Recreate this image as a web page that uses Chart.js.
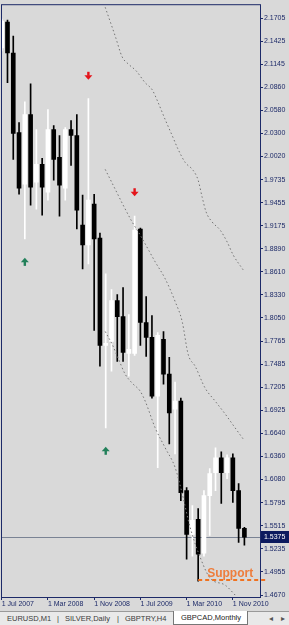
<!DOCTYPE html>
<html>
<head>
<meta charset="utf-8">
<script src="https://cdn.jsdelivr.net/npm/chart.js@4.4.1/dist/chart.umd.min.js"></script>
<style>
html, body { margin: 0; padding: 0; background: #d9d9d9; }
#wrap { position: relative; width: 289px; height: 625px; overflow: hidden; background: #d9d9d9; }
#chart { display: block; }
.tabs { position: absolute; left: 0; top: 611px; width: 289px; height: 14px; background: #e9e9e9;
        border-top: 1px solid #9a9a9a; box-sizing: border-box;
        font: 7.5px "Liberation Sans", Arial, sans-serif; color: #3a3a3a; }
.tabs span { position: absolute; top: 2px; white-space: nowrap; }
.tabs .active { top: -1px; left: 173px; width: 75px; height: 14px; background: #fff;
                border: 1px solid #777; border-top: none; box-sizing: border-box; padding: 2px 0 0 7px; color: #222; }
</style>
</head>
<body>
<div id="wrap">
  <canvas id="chart" width="289" height="611"></canvas>
  <div class="tabs">
    <span style="left:7px">EURUSD,M1</span>
    <span style="left:57px">|</span>
    <span style="left:65px">SILVER,Daily</span>
    <span style="left:117px">|</span>
    <span style="left:125px">GBPTRY,H4</span>
    <span class="active">GBPCAD,Monthly</span>
    <span style="left:269px;color:#555">&#9666;</span>
    <span style="left:281px;color:#555">&#9656;</span>
  </div>
</div>
<script>
// GBPCAD monthly candles, Jul 2007 .. Jan 2011

const months = ['Jul 2007', 'Aug 2007', 'Sep 2007', 'Oct 2007', 'Nov 2007', 'Dec 2007',
  'Jan 2008', 'Feb 2008', 'Mar 2008', 'Apr 2008', 'May 2008', 'Jun 2008', 'Jul 2008', 'Aug 2008',
  'Sep 2008', 'Oct 2008', 'Nov 2008', 'Dec 2008', 'Jan 2009', 'Feb 2009', 'Mar 2009', 'Apr 2009',
  'May 2009', 'Jun 2009', 'Jul 2009', 'Aug 2009', 'Sep 2009', 'Oct 2009', 'Nov 2009', 'Dec 2009',
  'Jan 2010', 'Feb 2010', 'Mar 2010', 'Apr 2010', 'May 2010', 'Jun 2010', 'Jul 2010', 'Aug 2010',
  'Sep 2010', 'Oct 2010', 'Nov 2010', 'Dec 2010', 'Jan 2011'];

const opens = [2.1341, 2.1656, 2.1280, 2.0310, 1.9679, 2.0528, 1.9704, 1.9922, 1.9582, 2.0347,
  2.0007, 1.9631, 2.0347, 2.0274, 1.9182, 1.8940, 1.9437, 1.9024, 1.7714, 1.7763, 1.8260, 1.8066,
  1.7617, 1.7617, 1.9134, 1.7993, 1.7812, 1.7096, 1.7787, 1.7363, 1.6938, 1.7035, 1.5944, 1.5410,
  1.5592, 1.5180, 1.5883, 1.6162, 1.6344, 1.6162, 1.6344, 1.5944, 1.5483];
const highs = [2.1693, 2.1681, 2.1487, 2.0431, 2.0686, 2.0904, 2.0347, 1.9995, 2.0589, 2.0395,
  2.0274, 2.0371, 2.0456, 2.0528, 1.9546, 2.0723, 1.9558, 1.9085, 1.8588, 1.8394, 1.8333, 1.8418,
  1.8090, 1.9291, 1.9146, 1.8309, 1.8078, 1.7872, 1.7884, 1.7569, 1.7266, 1.7072, 1.5980, 1.5762,
  1.5725, 1.5944, 1.6211, 1.6465, 1.6417, 1.6380, 1.6392, 1.6029, 1.5495];
const lows = [2.1305, 2.0917, 1.9983, 1.9558, 1.9012, 1.9425, 1.9376, 1.9303, 1.9485, 1.9728,
  1.9291, 1.9485, 1.9910, 1.9134, 1.8648, 1.8709, 1.7896, 1.7460, 1.6708, 1.7399, 1.7520, 1.7520,
  1.7339, 1.7593, 1.7714, 1.7581, 1.7072, 1.6223, 1.7242, 1.6514, 1.6392, 1.5822, 1.5107, 1.5143,
  1.4840, 1.5143, 1.5398, 1.5944, 1.5786, 1.6089, 1.5798, 1.5313, 1.5277];
const closes = [2.1669, 2.1280, 2.0298, 1.9631, 2.0528, 1.9643, 1.9922, 1.9643, 2.0347, 1.9983,
  1.9667, 2.0347, 2.0274, 1.9364, 1.8940, 1.9485, 1.9012, 1.7714, 1.7740, 1.8260, 1.8066, 1.7630,
  1.7666, 1.9121, 1.7993, 1.7812, 1.7096, 1.7836, 1.7363, 1.6890, 1.7035, 1.5919, 1.5410, 1.5580,
  1.5167, 1.5883, 1.6150, 1.6344, 1.6162, 1.6344, 1.5944, 1.5483, 1.5375];

const priceTicks = [2.1705, 2.1425, 2.1145, 2.0860, 2.0580, 2.0300, 2.0020, 1.9735, 1.9455,
  1.9175, 1.8890, 1.8610, 1.8330, 1.8050, 1.7765, 1.7485, 1.7205, 1.6925, 1.6640, 1.6360,
  1.6080, 1.5795, 1.5515, 1.5235, 1.4955, 1.4670];
const dateTicks = [0, 8, 16, 24, 32, 40];

// dotted channel lines (bar index, price)
const upperLineX = [17.91, 19.64, 20.85, 21.89, 23.27, 24.83, 26.04, 27.08, 28.29, 29.50, 30.54,
  31.75, 33.13, 34.0, 34.69, 35.38, 36.42, 37.80, 39.01, 40.05, 41.78];
const upperLineY = [2.1838, 2.1487, 2.1232, 2.1147, 2.1062, 2.0917, 2.0832, 2.0674, 2.0468,
  2.0274, 2.0104, 1.9946, 1.9849, 1.9728, 1.9522, 1.9340, 1.9219, 1.9121, 1.8976, 1.8818, 1.8636];
const middleLineX = [17.91, 19.64, 21.02, 22.58, 23.96, 24.83, 26.56, 28.29, 30.02, 31.23, 32.27,
  33.48, 35.21, 36.94, 38.67, 40.40, 41.78];
const middleLineY = [1.9861, 1.9619, 1.9425, 1.9219, 1.9061, 1.8952, 1.8733, 1.8527, 1.8248,
  1.8006, 1.7605, 1.7460, 1.7193, 1.7035, 1.6878, 1.6708, 1.6574];
const lowerLineX = [17.91, 19.12, 20.16, 21.37, 22.58, 23.96, 24.83, 26.56, 28.29, 30.02, 31.23,
  32.61, 34.34, 36.07, 38.67, 40.40];
const lowerLineY = [1.7884, 1.7727, 1.7557, 1.7363, 1.7254, 1.7157, 1.7035, 1.6708, 1.6465,
  1.6223, 1.5907, 1.5495, 1.5131, 1.4876, 1.4791, 1.4670];

// fractal arrows
const downArrowX = [15, 23];
const downArrowY = [2.1002, 1.9582];
const upArrowX = [4, 18];
const upArrowY = [1.8733, 1.6429];

const supportLevel = 1.4852;
const supportFrom = 34;

const navy = '#1d2a68';
const axisFont = { family: '"Liberation Sans", Arial, sans-serif', size: 7 };
const lastPrice = closes[closes.length - 1];
const candleColor = closes.map((c, i) => c >= opens[i] ? '#ffffff' : '#000000');

function toPoints(xs, ys) {
    return xs.map((x, i) => ({ x: x, y: ys[i] }));
}

function dottedLine(xs, ys) {
    return {
        type: 'line',
        data: toPoints(xs, ys),
        borderColor: '#747474',
        borderWidth: 1,
        borderDash: [1.5, 2.5],
        pointRadius: 0,
        cubicInterpolationMode: 'monotone',
        order: 0
    };
}

function drawArrow(ctx, x, y, dir, color) {
    // dir 1 = pointing down, -1 = pointing up
    ctx.fillStyle = color;
    ctx.fillRect(x - 1.2, dir > 0 ? y - 4 : y, 2.4, 4);
    ctx.beginPath();
    ctx.moveTo(x - 4, y - dir * 0.5);
    ctx.lineTo(x + 4, y - dir * 0.5);
    ctx.lineTo(x, y + dir * 4);
    ctx.closePath();
    ctx.fill();
}

// frame, bid line, price label, arrows, support
const chartMarks = {
    id: 'chartMarks',
    beforeDatasetsDraw(chart) {
        const { ctx, chartArea: a, scales: { y } } = chart;
        const py = Math.round(y.getPixelForValue(lastPrice)) + 0.5;
        ctx.save();
        ctx.strokeStyle = '#7a8394';
        ctx.lineWidth = 1;
        ctx.beginPath();
        ctx.moveTo(a.left, py);
        ctx.lineTo(a.right, py);
        ctx.stroke();
        ctx.restore();
    },
    afterDatasetsDraw(chart) {
        const { ctx, chartArea: a, scales: { x, y } } = chart;
        ctx.save();
        ctx.beginPath();
        ctx.rect(a.left, a.top, a.right - a.left, a.bottom - a.top);
        ctx.clip();
        downArrowX.forEach((v, i) => drawArrow(ctx, x.getPixelForValue(v), y.getPixelForValue(downArrowY[i]), 1, '#e4141b'));
        upArrowX.forEach((v, i) => drawArrow(ctx, x.getPixelForValue(v), y.getPixelForValue(upArrowY[i]), -1, '#22805a'));
        ctx.restore();

        // support level
        const sy = Math.round(y.getPixelForValue(supportLevel));
        const sx = x.getPixelForValue(supportFrom);
        ctx.save();
        ctx.strokeStyle = '#f0721f';
        ctx.lineWidth = 2;
        ctx.setLineDash([4, 3]);
        ctx.beginPath();
        ctx.moveTo(sx, sy);
        ctx.lineTo(a.right + 8, sy);
        ctx.stroke();
        ctx.setLineDash([]);
        ctx.fillStyle = '#ee7d3c';
        ctx.font = 'bold 12px "Liberation Sans", Arial, sans-serif';
        ctx.textBaseline = 'alphabetic';
        ctx.fillText('Support', sx + 9, sy - 3);
        ctx.restore();
    },
    afterDraw(chart) {
        const { ctx, chartArea: a, scales: { y } } = chart;
        ctx.save();
        ctx.strokeStyle = navy;
        ctx.lineWidth = 1;
        ctx.strokeRect(a.left - 0.5, a.top - 0.5, a.right - a.left + 1, a.bottom - a.top + 1);
        const py = Math.round(y.getPixelForValue(lastPrice));
        ctx.fillStyle = '#0c1a5e';
        ctx.fillRect(a.right + 1, py - 6, 28, 12);
        ctx.fillStyle = '#ffffff';
        ctx.font = '7px "Liberation Sans", Arial, sans-serif';
        ctx.textBaseline = 'middle';
        ctx.fillText(lastPrice.toFixed(4), a.right + 4, py + 0.5);
        ctx.restore();
    }
};

const ctx = document.getElementById('chart');

new Chart(ctx, {
    type: 'bar',
    data: {
        datasets: [
            dottedLine(upperLineX, upperLineY),
            dottedLine(middleLineX, middleLineY),
            dottedLine(lowerLineX, lowerLineY),
            {
                data: months.map((m, i) => ({ x: i, y: [opens[i], closes[i]] })),
                backgroundColor: candleColor,
                borderWidth: 0,
                barThickness: 4,
                minBarLength: 1,
                grouped: false,
                order: 1
            },
            {
                data: months.map((m, i) => ({ x: i, y: [lows[i], highs[i]] })),
                backgroundColor: candleColor,
                borderWidth: 0,
                barThickness: 1,
                grouped: false,
                order: 2
            }
        ]
    },
    options: {
        responsive: false,
        animation: false,
        layout: { padding: { left: 2, top: 2, right: 0, bottom: 0 } },
        plugins: {
            legend: { display: false },
            tooltip: { enabled: false }
        },
        scales: {
            x: {
                type: 'linear',
                offset: false,
                min: 0.05,
                max: 44.7,
                afterBuildTicks: s => { s.ticks = dateTicks.map(v => ({ value: v })); },
                afterFit: s => { s.height = 14; },
                border: { display: false },
                grid: { drawOnChartArea: false, tickLength: 3, color: navy, offset: false },
                ticks: {
                    autoSkip: false, maxRotation: 0, align: 'start', padding: 0,
                    color: navy, font: axisFont,
                    callback: v => '1 ' + months[v]
                }
            },
            y: {
                position: 'right',
                min: 1.4646,
                max: 2.1863,
                afterBuildTicks: s => { s.ticks = priceTicks.map(v => ({ value: v })); },
                afterFit: s => { s.width = 29; },
                border: { display: false },
                grid: { drawOnChartArea: false, tickLength: 3, color: navy },
                ticks: {
                    autoSkip: false, padding: 1, color: navy, font: axisFont,
                    callback: v => Number(v).toFixed(4)
                }
            }
        }
    },
    plugins: [chartMarks]
});
</script>
</body>
</html>
